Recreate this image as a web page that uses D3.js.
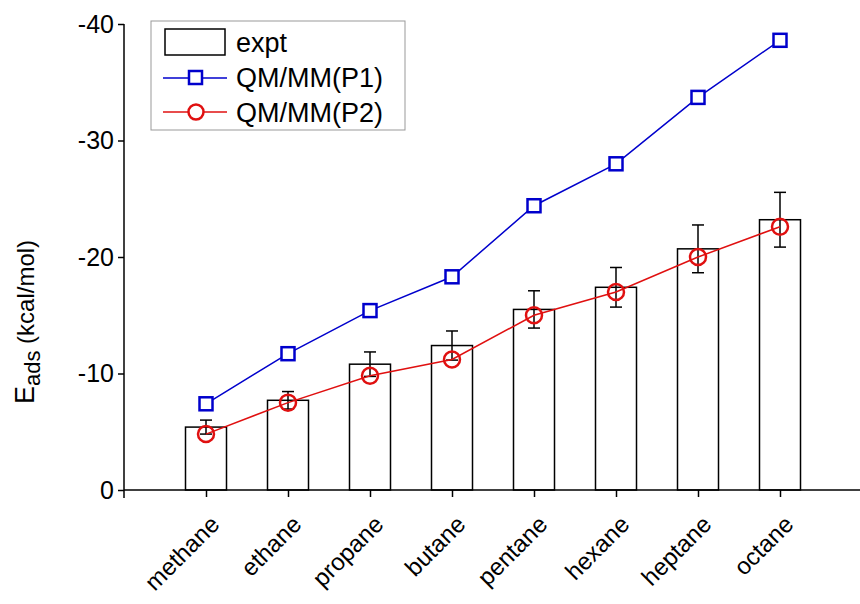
<!DOCTYPE html>
<html><head><meta charset="utf-8">
<script src="https://cdn.jsdelivr.net/npm/d3@7"></script>
<style>body{margin:0;background:#fff}text{font-family:Arial,"Liberation Sans",sans-serif}</style>
</head><body>
<script>
// data
let molecules = ["methane","ethane","propane","butane","pentane","hexane","heptane","octane"];
let expt = [-5.4, -7.7, -10.8, -12.4, -15.5, -17.4, -20.7, -23.2];
let exptErr = [0.6, 0.75, 1.05, 1.25, 1.6, 1.7, 2.05, 2.35];
let p1 = [-7.4, -11.7, -15.4, -18.3, -24.4, -28.0, -33.7, -38.6];
let p2 = [-4.8, -7.5, -9.8, -11.2, -15.0, -17.0, -20.0, -22.6];
let yTicks = [0, -10, -20, -30, -40];

let width = 860, height = 604;
let svg = d3.select("body").append("svg").attr("width", width).attr("height", height);

let xScale = d3.scalePoint().domain(molecules).range([124, 862]).padding(1);
let yScale = d3.scaleLinear().domain([0, -40]).range([490, 24]);
let barW = 41;

// bars
svg.append("g").selectAll("rect").data(expt).enter().append("rect")
  .attr("x", (d, i) => xScale(molecules[i]) - barW / 2)
  .attr("y", d => yScale(d))
  .attr("width", barW)
  .attr("height", d => yScale(0) - yScale(d))
  .attr("fill", "#fff").attr("stroke", "#000").attr("stroke-width", 1.5);

// error bars
let eg = svg.append("g").attr("stroke", "#000").attr("stroke-width", 1.5);
expt.forEach(function(d, i) {
  let cx = xScale(molecules[i]);
  let top = yScale(d - exptErr[i]), bot = yScale(d + exptErr[i]);
  eg.append("line").attr("x1", cx).attr("x2", cx).attr("y1", top).attr("y2", bot);
  eg.append("line").attr("x1", cx - 6).attr("x2", cx + 6).attr("y1", top).attr("y2", top);
  eg.append("line").attr("x1", cx - 6).attr("x2", cx + 6).attr("y1", bot).attr("y2", bot);
});

let line = d3.line().x((d, i) => xScale(molecules[i])).y(d => yScale(d));

// P1
svg.append("path").datum(p1).attr("d", line).attr("fill", "none").attr("stroke", "#0000cc").attr("stroke-width", 1.5);
svg.append("g").selectAll("rect").data(p1).enter().append("rect")
  .attr("x", (d, i) => xScale(molecules[i]) - 6.5)
  .attr("y", d => yScale(d) - 6.5)
  .attr("width", 13).attr("height", 13)
  .attr("fill", "#fff").attr("stroke", "#0000cc").attr("stroke-width", 2.5);

// P2
svg.append("path").datum(p2).attr("d", line).attr("fill", "none").attr("stroke", "#e01010").attr("stroke-width", 1.5);
svg.append("g").selectAll("circle").data(p2).enter().append("circle")
  .attr("cx", (d, i) => xScale(molecules[i]))
  .attr("cy", d => yScale(d))
  .attr("r", 8)
  .attr("fill", "none").attr("stroke", "#e01010").attr("stroke-width", 2.5);

// axes
let yAxis = d3.axisLeft(yScale).tickValues(yTicks).tickSize(6).tickPadding(4)
  .tickFormat(d => String(d));
let yg = svg.append("g").attr("transform", "translate(124,0)").call(yAxis);
yg.select(".domain").attr("stroke-width", 1.5).attr("d", "M0,24V498");
yg.selectAll(".tick line").attr("stroke-width", 1.5);
yg.selectAll("text").attr("font-size", 25).attr("fill", "#000");

let xAxis = d3.axisBottom(xScale).tickSize(7).tickFormat("");
let xg = svg.append("g").attr("transform", "translate(0,490)").call(xAxis);
xg.select(".domain").attr("stroke-width", 1.5).attr("d", "M124,0H860");
xg.selectAll(".tick line").attr("stroke-width", 1.5);

svg.append("g").selectAll("text").data(molecules).enter().append("text")
  .attr("transform", d => "translate(" + (xScale(d) + 3) + ",514) rotate(-45)")
  .attr("text-anchor", "end").attr("dy", "0.7em")
  .attr("font-size", 24).text(d => d);

// y label
let yl = svg.append("text").attr("transform", "translate(34,322) rotate(-90)")
  .attr("text-anchor", "middle").attr("font-size", 27);
yl.append("tspan").text("E");
yl.append("tspan").attr("font-size", 22).attr("dy", 6).text("ads");
yl.append("tspan").attr("dy", -6).attr("font-size", 24).text(" (kcal/mol)");

// legend
let lg = svg.append("g");
lg.append("rect").attr("x", 151).attr("y", 21).attr("width", 254).attr("height", 109)
  .attr("fill", "#fff").attr("stroke", "#999").attr("stroke-width", 1);
lg.append("rect").attr("x", 165).attr("y", 29).attr("width", 60).attr("height", 26)
  .attr("fill", "#fff").attr("stroke", "#000").attr("stroke-width", 1.5);
lg.append("line").attr("x1", 163).attr("x2", 227).attr("y1", 78).attr("y2", 78).attr("stroke", "#0000cc").attr("stroke-width", 1.5);
lg.append("rect").attr("x", 189).attr("y", 71).attr("width", 13).attr("height", 13)
  .attr("fill", "#fff").attr("stroke", "#0000cc").attr("stroke-width", 2.5);
lg.append("line").attr("x1", 163).attr("x2", 227).attr("y1", 112).attr("y2", 112).attr("stroke", "#e01010").attr("stroke-width", 1.5);
lg.append("circle").attr("cx", 196).attr("cy", 112).attr("r", 7.5)
  .attr("fill", "#fff").attr("stroke", "#e01010").attr("stroke-width", 2.5);
["expt", "QM/MM(P1)", "QM/MM(P2)"].forEach(function(t, i) {
  lg.append("text").attr("x", 236).attr("y", 43 + i * 35).attr("dy", "0.35em")
    .attr("font-size", 27).text(t);
});
</script>
</body></html>
